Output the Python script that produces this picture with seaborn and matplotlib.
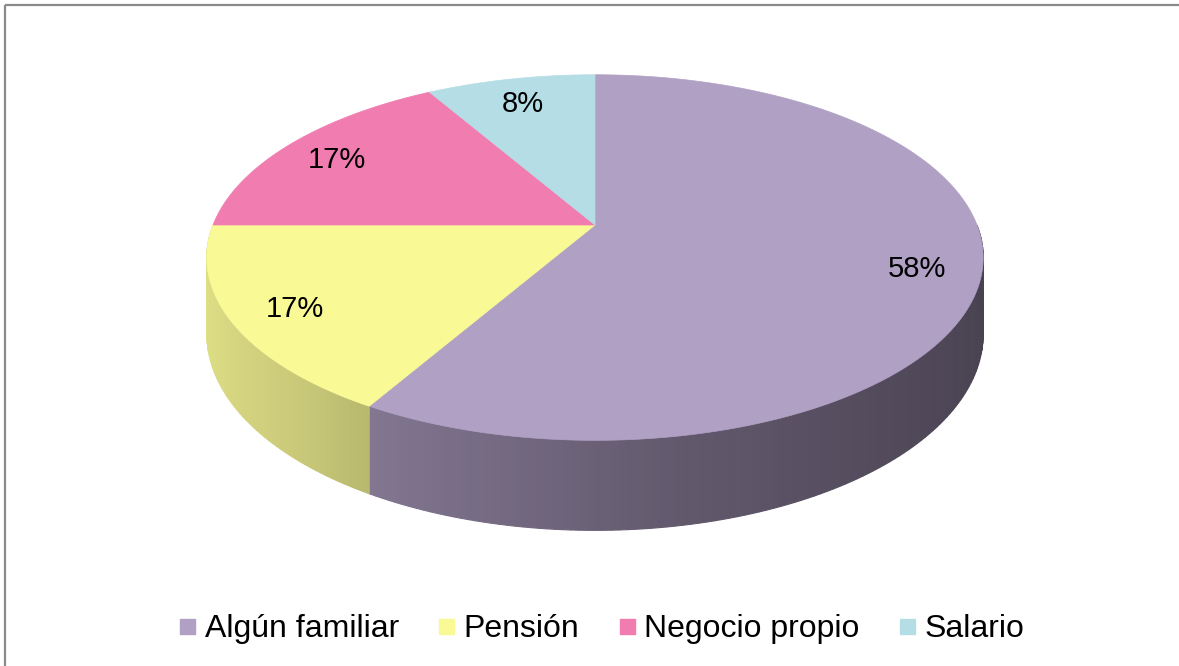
import numpy as np
import pandas as pd
import seaborn as sns
import matplotlib
matplotlib.use("Agg")
import matplotlib.pyplot as plt
from matplotlib.lines import Line2D
from matplotlib.patches import Rectangle

# answers of 12 people -> 58% / 17% / 17% / 8%
categories = ["Algún familiar", "Pensión", "Negocio propio", "Salario"]
counts = [7, 2, 2, 1]
colors = ["#B0A0C4", "#F9F996", "#F17CAF", "#B4DDE6"]

sns.set_theme(style="white")
plt.rcParams["font.family"] = ["Liberation Sans", "DejaVu Sans"]
plt.rcParams["text.color"] = "black"

df = pd.DataFrame({"cat": categories, "n": counts, "color": colors})
df["pct"] = df["n"] / df["n"].sum()
# clockwise from 12 o'clock, like Excel does it
df["t2"] = 90 - 360 * df["pct"].cumsum().shift(fill_value=0)
df["t1"] = df["t2"] - 360 * df["pct"]

# perspective view of the 3d pie, in screen pixels
X0, Y0 = 595, 225   # apex of the slices
A, B = 382, 177
P = 0.178           # how strong the perspective is
DEPTH = 74


def project(theta, r=1.0, z=0.0):
    u = r * np.cos(np.radians(theta))
    v = r * np.sin(np.radians(theta))
    w = 1 + P * v
    return X0 + A * u / w, Y0 - B * v / w + z / w


def shade(theta):
    u = np.cos(np.radians(theta))
    return np.interp(u, [-1, -0.62, -0.5, 0.2, 1], [0.9, 0.79, 0.74, 0.55, 0.41])


fig = plt.figure(figsize=(11.79, 6.66), dpi=100)
ax = fig.add_axes([0, 0, 1, 1])
ax.set_xlim(0, 1179)
ax.set_ylim(666, 0)
ax.axis("off")

# side of the cake (only the front half shows)
for _, row in df.iterrows():
    lo, hi = max(row.t1, -180), min(row.t2, 0)
    if lo >= hi:
        continue
    base = np.array(matplotlib.colors.to_rgb(row.color))
    edges = np.linspace(lo, hi, int(hi - lo) + 1)
    for a, b in zip(edges[:-1], edges[1:]):
        xt, yt = project(np.array([a, b]))
        xb, yb = project(np.array([b, a]), z=DEPTH)
        c = np.clip(base * shade((a + b) / 2), 0, 1)
        ax.fill(np.r_[xt, xb], np.r_[yt, yb], color=c, lw=0.8, ec=c)

# top face
for _, row in df.iterrows():
    th = np.linspace(row.t1, row.t2, 200)
    xs, ys = project(th)
    ax.fill(np.r_[X0, xs], np.r_[Y0, ys], color=row.color, lw=0.5, ec=row.color)
    xm, ym = project((row.t1 + row.t2) / 2, r=0.84)
    ax.text(xm, ym + 4, f"{row.pct * 100:.0f}%", ha="center", va="center",
            fontsize=21, color="black")

# chart frame (right/bottom edges are cut off in the original)
ax.add_patch(Rectangle((4.5, 5), 1300, 800, fill=False, ec="#8a8a8a", lw=1.6))

handles = [Line2D([], [], marker="s", ls="", markersize=10.8,
                  markerfacecolor=c, markeredgecolor=c) for c in colors]
fig.legend(handles, categories, loc="center", bbox_to_anchor=(602 / 1179, 1 - 629 / 666),
           ncol=4, frameon=False, fontsize=23, handlelength=0.47,
           handletextpad=0.31, columnspacing=1.25, borderpad=0, labelcolor="black")

fig.savefig("out.png", dpi=100)
